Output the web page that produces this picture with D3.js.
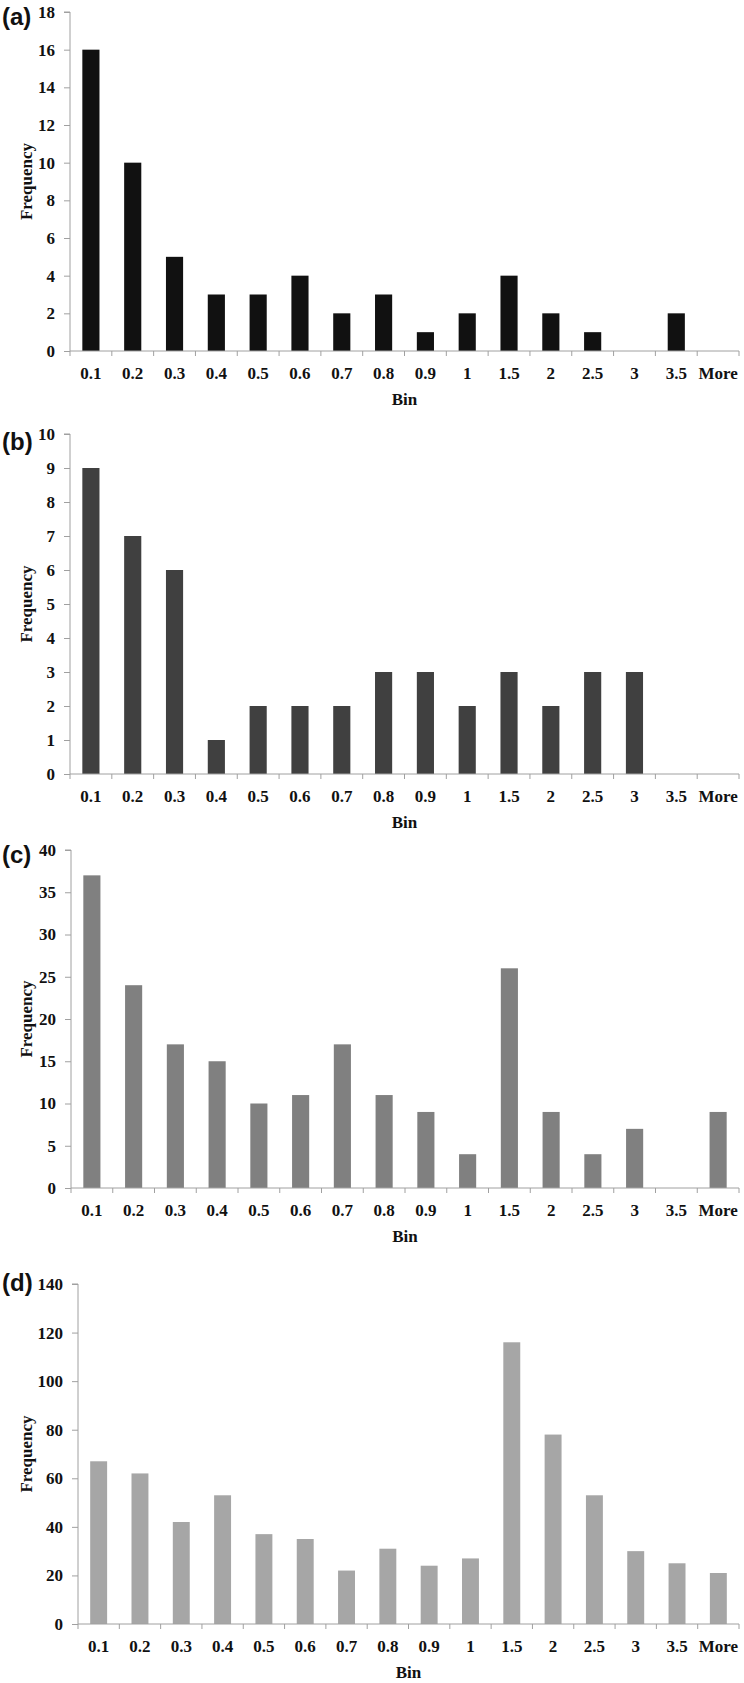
<!DOCTYPE html>
<html>
<head>
<meta charset="utf-8">
<script src="https://cdn.jsdelivr.net/npm/d3@7"></script>
<style>
  body { margin: 0; background: #fff; }
  svg { display: block; }
</style>
</head>
<body>
<div id="chart"></div>
<script>
const bins = ['0.1', '0.2', '0.3', '0.4', '0.5', '0.6', '0.7', '0.8', '0.9', '1', '1.5', '2', '2.5', '3', '3.5', 'More'];

const freqA = [16, 10, 5, 3, 3, 4, 2, 3, 1, 2, 4, 2, 1, 0, 2, 0];
const freqB = [9, 7, 6, 1, 2, 2, 2, 3, 3, 2, 3, 2, 3, 3, 0, 0];
const freqC = [37, 24, 17, 15, 10, 11, 17, 11, 9, 4, 26, 9, 4, 7, 0, 9];
const freqD = [67, 62, 42, 53, 37, 35, 22, 31, 24, 27, 116, 78, 53, 30, 25, 21];

const ticksA = [0, 2, 4, 6, 8, 10, 12, 14, 16, 18];
const ticksB = [0, 1, 2, 3, 4, 5, 6, 7, 8, 9, 10];
const ticksC = [0, 5, 10, 15, 20, 25, 30, 35, 40];
const ticksD = [0, 20, 40, 60, 80, 100, 120, 140];

const panels = [
  { tag: '(a)', values: freqA, ticks: ticksA, color: '#111111', left: 70, top: 12, bottom: 351, tagY: 17 },
  { tag: '(b)', values: freqB, ticks: ticksB, color: '#404040', left: 70, top: 434, bottom: 774, tagY: 442 },
  { tag: '(c)', values: freqC, ticks: ticksC, color: '#808080', left: 71, top: 850, bottom: 1188, tagY: 855 },
  { tag: '(d)', values: freqD, ticks: ticksD, color: '#a6a6a6', left: 78, top: 1284, bottom: 1624, tagY: 1283 }
];

const width = 744;
const height = 1683;
const right = 739;
const axisColor = '#a0a0a0';
const serif = '"Liberation Serif", "Times New Roman", serif';

const svg = d3.select('#chart')
  .append('svg')
  .attr('width', width)
  .attr('height', height);

panels.forEach(p => {
  const g = svg.append('g');

  const x = d3.scaleBand()
    .domain(bins)
    .range([p.left, right]);

  const y = d3.scaleLinear()
    .domain([0, d3.max(p.ticks)])
    .range([p.bottom, p.top]);

  // bars
  g.append('g')
    .attr('fill', p.color)
    .selectAll('rect')
    .data(p.values)
    .join('rect')
      .attr('x', (d, i) => x(bins[i]) + x.bandwidth() * 0.295)
      .attr('y', d => y(d))
      .attr('width', x.bandwidth() * 0.41)
      .attr('height', d => y(0) - y(d));

  // y axis
  const yAxis = g.append('g')
    .attr('transform', `translate(${p.left},0)`)
    .call(d3.axisLeft(y).tickValues(p.ticks).tickSize(6).tickPadding(9));
  yAxis.select('.domain').attr('stroke', axisColor).attr('d', `M-6,${p.top}H0V${p.bottom}`);
  yAxis.selectAll('.tick line').attr('stroke', axisColor);
  yAxis.selectAll('.tick text')
    .attr('fill', '#111')
    .attr('font-family', serif)
    .attr('font-weight', 'bold')
    .attr('font-size', '17px');

  // x axis (labels)
  const xAxis = g.append('g')
    .attr('transform', `translate(0,${p.bottom})`)
    .call(d3.axisBottom(x).tickSize(0).tickPadding(16));
  xAxis.select('.domain').attr('stroke', axisColor).attr('d', `M${p.left},0H${right}`);
  xAxis.selectAll('.tick text')
    .attr('fill', '#111')
    .attr('font-family', serif)
    .attr('font-weight', 'bold')
    .attr('font-size', '17px');

  // category boundary ticks
  const edges = bins.map(b => x(b)).concat([right]);
  g.append('g')
    .attr('stroke', axisColor)
    .selectAll('line')
    .data(edges)
    .join('line')
      .attr('x1', d => d)
      .attr('x2', d => d)
      .attr('y1', p.bottom)
      .attr('y2', p.bottom + 5);

  // axis titles
  g.append('text')
    .attr('x', (p.left + right) / 2)
    .attr('y', p.bottom + 54)
    .attr('text-anchor', 'middle')
    .attr('font-family', serif)
    .attr('font-weight', 'bold')
    .attr('font-size', '17px')
    .attr('fill', '#111')
    .text('Bin');

  g.append('text')
    .attr('transform', `translate(32,${(p.top + p.bottom) / 2}) rotate(-90)`)
    .attr('text-anchor', 'middle')
    .attr('font-family', serif)
    .attr('font-weight', 'bold')
    .attr('font-size', '17px')
    .attr('fill', '#111')
    .text('Frequency');

  // panel tag
  g.append('text')
    .attr('x', 2)
    .attr('y', p.tagY)
    .attr('dy', '0.35em')
    .attr('font-family', '"Liberation Sans", Arial, sans-serif')
    .attr('font-weight', 'bold')
    .attr('font-size', '24px')
    .attr('fill', '#111')
    .text(p.tag);
});
</script>
</body>
</html>
